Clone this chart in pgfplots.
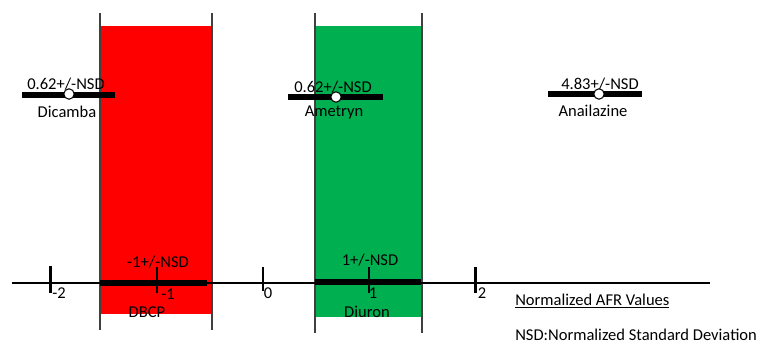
\documentclass[border=0pt]{standalone}
\usepackage{pgfplots}
\pgfplotsset{compat=1.18}
\usepackage{fontspec}
\setmainfont{Carlito}
\definecolor{myred}{RGB}{255,0,0}
\definecolor{mygreen}{RGB}{0,176,80}
\definecolor{vline}{RGB}{64,64,64}
\begin{document}
\begin{tikzpicture}[every node/.style={font=\fontsize{12.4}{14}\selectfont, inner sep=0pt}]
\begin{axis}[scale only axis, width=570pt, height=259.5pt,
  xmin=-2.4753, xmax=4.6776, ymin=0, ymax=346, y dir=reverse,
  hide axis, clip=false]
\path[draw=none] (rel axis cs:0,0) rectangle (rel axis cs:1,1);
% shaded regions
\addplot[fill=myred, draw=none] coordinates {(-1.5341,26) (-0.4800,26) (-0.4800,314) (-1.5341,314)} -- cycle;
\addplot[fill=mygreen, draw=none] coordinates {(0.4894,26) (1.4965,26) (1.4965,317) (0.4894,317)} -- cycle;
% vertical boundary lines
\addplot[vline, line width=0.8pt] coordinates {(-1.5341,13) (-1.5341,330)};
\addplot[vline, line width=0.8pt] coordinates {(-0.4800,13) (-0.4800,330)};
\addplot[vline, line width=0.8pt] coordinates {(0.4894,13) (0.4894,333)};
\addplot[vline, line width=0.8pt] coordinates {(1.4965,13) (1.4965,333)};
% main axis line
\addplot[black, line width=0.9pt] coordinates {(-2.3624,283) (4.2071,283)};
% ticks
\addplot[black, line width=1.8pt] coordinates {(-2,266) (-2,293)};
\addplot[black, line width=1.8pt] coordinates {(-1,267) (-1,293)};
\addplot[black, line width=1.8pt] coordinates {(0,267) (0,291)};
\addplot[black, line width=1.8pt] coordinates {(1,267) (1,293)};
\addplot[black, line width=1.8pt] coordinates {(2,267) (2,293)};
% DBCP and Diuron bars
\addplot[black, line width=5pt] coordinates {(-1.5341,283) (-0.5271,283)};
\addplot[black, line width=4.5pt] coordinates {(0.4894,282) (1.4871,282)};
% upper bars
\addplot[black, line width=4.5pt] coordinates {(-2.2682,95) (-1.3929,95)};
\addplot[black, line width=4.5pt] coordinates {(0.2353,97) (1.1294,97)};
\addplot[black, line width=4.5pt] coordinates {(2.6824,94) (3.5671,94)};
\addplot[only marks, mark=*, mark size=3.9pt, mark options={fill=white, draw=black, line width=0.8pt}]
  coordinates {(-1.8259,94) (0.6871,97) (3.1624,94)};
% tick labels
\node at (axis cs:-1.92,293) {-2};
\node at (axis cs:-0.894,294) {-1};
\node at (axis cs:0.047,293) {0};
\node at (axis cs:1.035,293) {1};
\node at (axis cs:2.061,293) {2};
% labels
\node at (axis cs:-0.9882,262) {-1+/-NSD};
\node at (axis cs:-1.0918,312) {DBCP};
\node at (axis cs:1.0071,260) {1+/-NSD};
\node at (axis cs:0.9788,312) {Diuron};
\node at (axis cs:-1.8541,84) {0.62+/-NSD};
\node at (axis cs:-1.8447,112) {Dicamba};
\node at (axis cs:0.6588,87) {0.62+/-NSD};
\node at (axis cs:0.6682,113) {Ametryn};
\node at (axis cs:3.1718,84) {4.83+/-NSD};
\node at (axis cs:3.1059,111) {Anailazine};
\node[anchor=west] at (axis cs:2.3718,301) {\underline{Normalized AFR Values}};
\node[anchor=west] at (axis cs:2.3718,335) {NSD:Normalized Standard Deviation};
\end{axis}
\end{tikzpicture}
\end{document}
